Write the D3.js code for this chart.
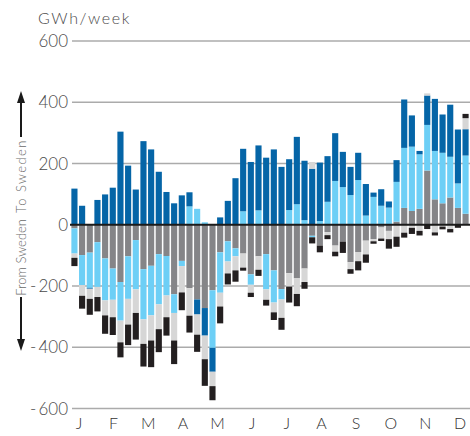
<!DOCTYPE html>
<html>
<head>
<meta charset="utf-8">
<script src="https://cdn.jsdelivr.net/npm/d3@7"></script>
<style>
  html, body { margin: 0; padding: 0; background: #fff; }
  svg { display: block; font-family: Lato, "Open Sans", sans-serif; }
</style>
</head>
<body>
<svg id="chart" width="470" height="436"></svg>
<script>
// Weekly net exchange, GWh per week; positive = to Sweden, negative = from Sweden
const weeks = d3.range(1, 53);
const months = ["J", "F", "M", "A", "M", "J", "J", "A", "S", "O", "N", "D"];
const yTicks = [-600, -400, -200, 0, 200, 400, 600];

const grey = [-12,-99,-91,-57,-110,-143,-187,-103,-50,-145,-134,-96,-102,-227,-118,-207,-244,-272,-214,-90,-54,-77,-94,-162,-103,-96,-149,-210,-158,-175,-143,-36,-68,-24,-68,-55,-122,-89,-52,-47,-9,-20,10,55,45,52,177,83,70,89,55,36];
const lightBlue = [-82,-98,-115,-146,-137,-102,-126,-139,-161,-164,-162,-164,-129,-61,-17,60,52,8,-188,-132,-66,-26,44,-34,47,-115,-105,-34,48,67,15,-5,12,75,143,123,97,146,30,91,62,56,130,196,210,178,149,158,165,133,80,190];
const darkBlue = [118,62,-3,81,99,121,304,193,115,273,246,173,107,70,96,46,-49,-90,-78,24,78,152,204,205,212,219,246,189,166,220,194,183,191,149,156,115,92,89,103,14,54,20,71,158,102,11,96,170,125,170,176,86];
const lightGrey = [-14,-35,-33,-33,-49,-57,-71,-84,-77,-80,-82,-81,-71,-90,-86,-90,-66,-77,-47,-45,-39,-46,-46,-26,-44,-34,-32,-60,-44,-51,-44,22,0,-10,-20,0,-23,-30,-45,-7,-36,-27,-39,-26,-10,-20,7,-25,-6,-14,0,36];
const black = [-27,-42,-52,-47,-60,-58,-49,-67,-87,-74,-87,-75,-60,-77,-58,-55,-56,-87,-46,-55,-36,-37,-10,-14,-20,-19,-25,-39,-52,-40,-22,-20,-22,-13,-15,-37,-15,-30,-27,-8,-8,-31,-33,-16,-20,-15,-14,-10,-9,-11,-10,14];

const seriesKeys = ["grey", "lightBlue", "darkBlue", "lightGrey", "black"];
const seriesColors = {
  grey: "#858588",
  lightBlue: "#6dcff6",
  darkBlue: "#0565a7",
  lightGrey: "#d6d6d6",
  black: "#231f20"
};

const table = weeks.map((w, i) => ({
  week: w,
  grey: grey[i],
  lightBlue: lightBlue[i],
  darkBlue: darkBlue[i],
  lightGrey: lightGrey[i],
  black: black[i]
}));

const svg = d3.select("#chart");
const x = d3.scaleBand().domain(weeks).range([70.6, 469.4]).paddingInner(0.2).paddingOuter(0.1);
const y = d3.scaleLinear().domain([-600, 600]).range([408.5, 41]);

// Grid lines
svg.append("g")
  .selectAll("line")
  .data(yTicks.filter(d => d !== 0))
  .join("line")
  .attr("x1", 72).attr("x2", 470)
  .attr("y1", d => y(d)).attr("y2", d => y(d))
  .attr("stroke", "#ababab").attr("stroke-width", 1.4);

// Y tick labels
svg.append("g")
  .selectAll("text")
  .data(yTicks)
  .join("text")
  .attr("x", 68)
  .attr("y", d => y(d))
  .attr("dy", "0.36em")
  .attr("text-anchor", "end")
  .attr("font-size", 17)
  .attr("font-weight", 300)
  .attr("fill", "#4a4a4a")
  .text(d => d < 0 ? "-\u2009" + Math.abs(d) : String(d));

// Unit title
svg.append("text")
  .attr("x", 38).attr("y", 24)
  .attr("font-size", 16).attr("font-weight", 300)
  .attr("letter-spacing", 1.6)
  .attr("fill", "#4a4a4a")
  .text("GWh/week");

// Stacked bars
const stacked = d3.stack().keys(seriesKeys).offset(d3.stackOffsetDiverging)(table);
svg.append("g")
  .selectAll("g")
  .data(stacked)
  .join("g")
  .attr("fill", d => seriesColors[d.key])
  .selectAll("rect")
  .data(d => d.filter(s => s[1] !== s[0]))
  .join("rect")
  .attr("x", d => x(d.data.week))
  .attr("width", x.bandwidth())
  .attr("y", d => y(Math.max(d[0], d[1])))
  .attr("height", d => Math.abs(y(d[0]) - y(d[1])));

// Zero line
svg.append("line")
  .attr("x1", 70).attr("x2", 470)
  .attr("y1", y(0)).attr("y2", y(0))
  .attr("stroke", "#1a1a1a").attr("stroke-width", 2);

// Month labels
const mx = d3.scalePoint().domain(d3.range(months.length)).range([79, 460]);
svg.append("g")
  .selectAll("text")
  .data(months)
  .join("text")
  .attr("x", (d, i) => mx(i))
  .attr("y", 429)
  .attr("text-anchor", "middle")
  .attr("font-size", 16)
  .attr("font-weight", 300)
  .attr("fill", "#333")
  .text(d => d);

// Direction labels with arrows
const axisX = 21;
const dir = svg.append("g").attr("fill", "#6a6a6a").attr("font-size", 13).attr("font-weight", 300);
dir.append("text")
  .attr("transform", `translate(${axisX + 5},213) rotate(-90)`)
  .attr("text-anchor", "start")
  .attr("letter-spacing", 1.4)
  .text("To Sweden");
dir.append("text")
  .attr("transform", `translate(${axisX + 5},219) rotate(-90)`)
  .attr("text-anchor", "end")
  .text("From Sweden");

const arrows = svg.append("g").attr("stroke", "#1a1a1a").attr("stroke-width", 2);
arrows.append("line").attr("x1", axisX).attr("x2", axisX).attr("y1", 137).attr("y2", 98);
arrows.append("line").attr("x1", axisX).attr("x2", axisX).attr("y1", 297).attr("y2", 344);
svg.append("path")
  .attr("d", `M${axisX},91 L${axisX - 4},103 L${axisX + 4},103 Z`)
  .attr("fill", "#1a1a1a");
svg.append("path")
  .attr("d", `M${axisX},351 L${axisX - 4},339 L${axisX + 4},339 Z`)
  .attr("fill", "#1a1a1a");
</script>
</body>
</html>
